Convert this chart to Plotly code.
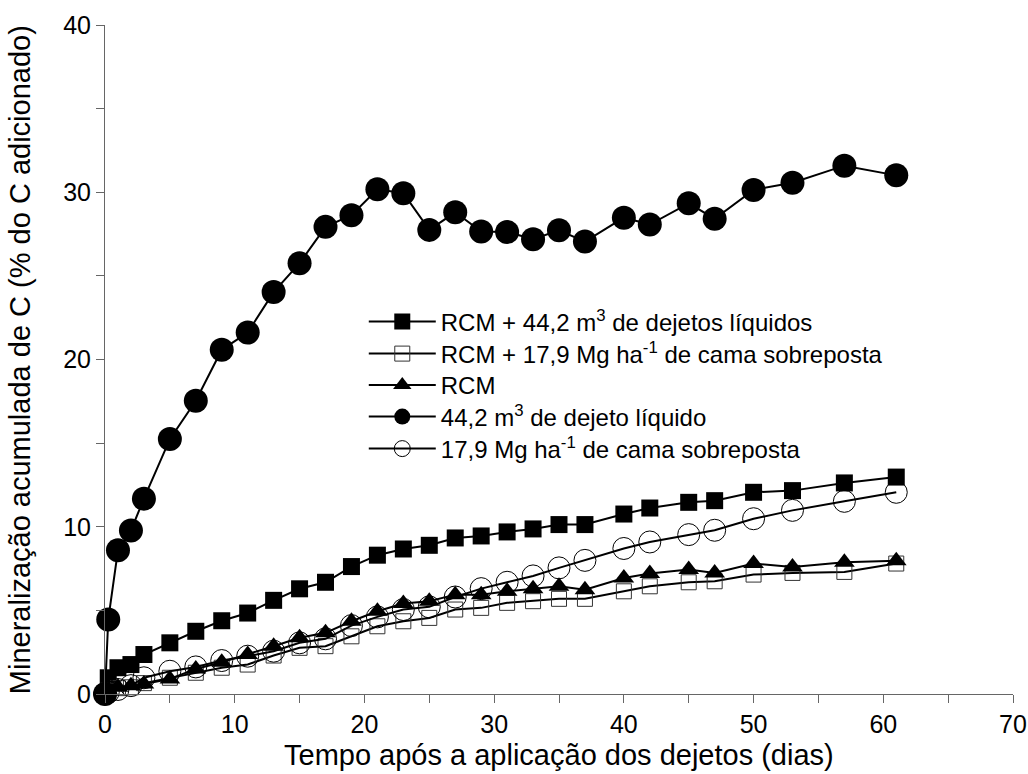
import plotly.graph_objects as go

days = [0, 0.25, 1, 2, 3, 5, 7, 9, 11, 13, 15, 17, 19, 21, 23, 25, 27, 29,
        31, 33, 35, 37, 40, 42, 45, 47, 50, 53, 57, 61]

rcm_liq = [0, 0.97, 1.57, 1.76, 2.36, 3.06, 3.75, 4.38, 4.84, 5.6, 6.29, 6.68,
           7.62, 8.3, 8.67, 8.89, 9.33, 9.45, 9.69, 9.87, 10.13, 10.13, 10.76,
           11.12, 11.46, 11.56, 12.06, 12.16, 12.62, 12.97]

rcm_cama = [0, 0.2, 0.35, 0.4, 0.65, 0.97, 1.27, 1.57, 1.76, 2.3, 2.76, 2.86,
            3.45, 4.05, 4.35, 4.55, 5.05, 5.15, 5.45, 5.55, 5.69, 5.69, 6.14,
            6.44, 6.68, 6.74, 7.14, 7.24, 7.3, 7.8]

rcm = [0, 0.2, 0.4, 0.5, 0.6, 0.9, 1.5, 1.9, 2.36, 2.86, 3.36, 3.66, 4.35,
       4.95, 5.41, 5.55, 5.94, 5.94, 6.14, 6.3, 6.44, 6.24, 6.94, 7.2, 7.44,
       7.24, 7.8, 7.6, 7.87, 7.97]

liq = [0, 4.45, 8.6, 9.78, 11.68, 15.24, 17.53, 20.58, 21.61, 24.03, 25.76,
       27.93, 28.63, 30.18, 29.94, 27.75, 28.8, 27.65, 27.63, 27.19, 27.73,
       27.05, 28.48, 28.07, 29.34, 28.42, 30.14, 30.57, 31.59, 31.01]

cama = [0, 0.1, 0.27, 0.5, 0.97, 1.36, 1.62, 2.0, 2.26, 2.56, 3.06, 3.3, 4.09,
        4.61, 5.05, 5.21, 5.8, 6.3, 6.68, 7.06, 7.54, 7.99, 8.7, 9.09, 9.53,
        9.79, 10.48, 10.98, 11.52, 12.06]

names = [
    "RCM + 44,2 m<sup>3</sup> de dejetos líquidos",
    "RCM + 17,9 Mg ha<sup>-1</sup> de cama sobreposta",
    "RCM",
    "44,2 m<sup>3</sup> de dejeto líquido",
    "17,9 Mg ha<sup>-1</sup> de cama sobreposta",
]
x_title = "Tempo após a aplicação dos dejetos (dias)"
y_title = "Mineralização acumulada de C (% do C adicionado)"

FONT = "Liberation Sans, Arial, sans-serif"
line = dict(color="black", width=2)

fig = go.Figure()
fig.add_trace(go.Scatter(x=days, y=rcm_liq, name=names[0], mode="lines+markers",
                         line=line, legend="legend",
                         marker=dict(symbol="square", size=17, color="black")))
fig.add_trace(go.Scatter(x=days, y=rcm_cama, name=names[1], mode="lines+markers",
                         line=line, legend="legend2",
                         marker=dict(symbol="square-open", size=15, color="#333",
                                     line=dict(width=1, color="#333"))))
fig.add_trace(go.Scatter(x=days, y=cama, name=names[4], mode="lines+markers",
                         line=line, showlegend=False,
                         marker=dict(symbol="circle-open", size=22, color="black",
                                     line=dict(width=1, color="black"))))
fig.add_trace(go.Scatter(x=days, y=rcm, name=names[2], mode="lines+markers",
                         line=line, legend="legend3",
                         marker=dict(symbol="triangle-up", size=18, color="black")))
fig.add_trace(go.Scatter(x=days, y=liq, name=names[3], mode="lines+markers",
                         line=line, legend="legend4",
                         marker=dict(symbol="circle", size=24, color="black")))
# legend entry for the open-circle series (its data trace is drawn above)
fig.add_trace(go.Scatter(x=[None], y=[None], name=names[4], mode="lines+markers",
                         line=dict(color="black", width=2), legend="legend5",
                         marker=dict(symbol="circle-open", size=16, color="black",
                                     line=dict(width=1, color="black"))))

fig.update_traces(cliponaxis=False)

axis_common = dict(
    showline=True, linecolor="#666", linewidth=1,
    ticks="outside", ticklen=8, tickwidth=1, tickcolor="#666",
    showgrid=False, zeroline=False, ticklabeloverflow="allow",
    automargin=False,
    tickfont=dict(family=FONT, size=25, color="black"),
    minor=dict(ticks="outside", ticklen=8, tickwidth=1, tickcolor="#666", dtick=5, showgrid=False),
)

fig.update_xaxes(range=[0, 70], dtick=10, tick0=0, **axis_common)
fig.update_yaxes(range=[0, 40], dtick=10, tick0=0, **axis_common)

fig.add_annotation(text=x_title, xref="paper", yref="paper", x=0.5, y=-0.0912,
                   xanchor="center", yanchor="middle", showarrow=False,
                   font=dict(family=FONT, size=29, color="black"))
fig.add_annotation(text=y_title, xref="paper", yref="paper", x=-0.094, y=0.5,
                   xanchor="center", yanchor="middle", showarrow=False, textangle=-90,
                   font=dict(family=FONT, size=29, color="black"))

# one legend per row so the row spacing matches the reference
plot_top, plot_bot = 25, 694
row_px = [322, 354, 385.5, 417, 449]
leg_common = dict(x=0.285, xanchor="left", yanchor="middle",
                  bgcolor="rgba(0,0,0,0)", itemwidth=67,
                  font=dict(family=FONT, size=24, color="black"))
legends = {}
for i, py in enumerate(row_px):
    key = "legend" if i == 0 else f"legend{i + 1}"
    legends[key] = dict(y=(plot_bot - py) / (plot_bot - plot_top), **leg_common)

fig.update_layout(
    width=1028, height=774,
    margin=dict(l=105, r=15, t=25, b=80),
    plot_bgcolor="white", paper_bgcolor="white",
    font=dict(family=FONT, size=24, color="black"),
    showlegend=True,
    **legends,
)

fig.write_html("out.html")
